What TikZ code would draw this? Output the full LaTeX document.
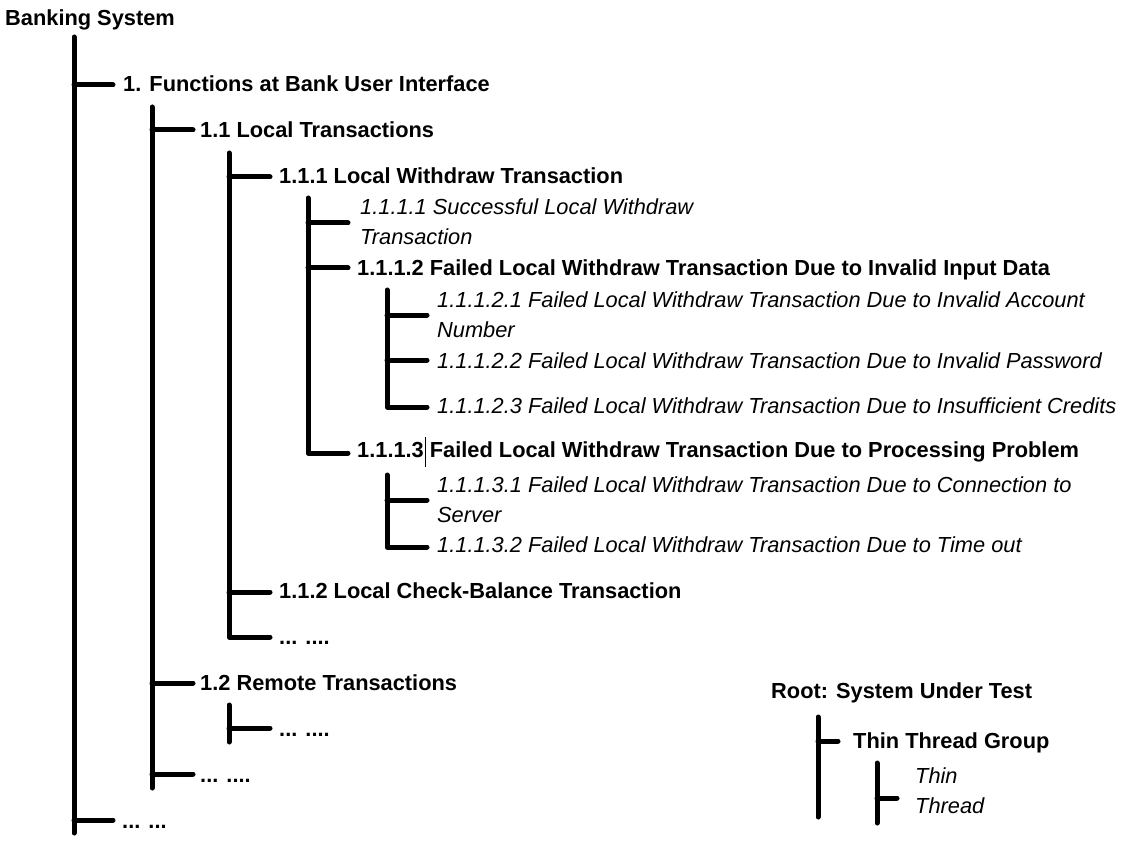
\documentclass[tikz,border=0pt]{standalone}
\usepackage{fontspec}
\setmainfont{Liberation Sans}
\begin{document}
\begin{tikzpicture}[x=1pt,y=-1pt,
  br/.style={line width=5pt,line cap=round,line join=round},
  bt/.style={anchor=base west,inner sep=0pt,font=\bfseries\fontsize{21.8}{30}\selectfont},
  itx/.style={anchor=base west,inner sep=0pt,align=left,font=\itshape\fontsize{21.8}{30}\selectfont}]
\useasboundingbox[fill=white] (0,0) rectangle (1124,842);
% texts (base west = baseline of the last line)
\node[bt] (t0) at (5,26) {Banking System};
\node[bt] (t1) at (123,92) {1. Functions at Bank User Interface};
\node[bt] (t11) at (200,138) {1.1 Local Transactions};
\node[bt] (t111) at (279,184) {1.1.1 Local Withdraw Transaction};
\node[itx] (t1111) at (360,245) {1.1.1.1 Successful Local Withdraw\\Transaction};
\node[bt] (t1112) at (357,276) {1.1.1.2 Failed Local Withdraw Transaction Due to Invalid Input Data};
\node[itx] (t11121) at (437,337) {1.1.1.2.1 Failed Local Withdraw Transaction Due to Invalid Account\\Number};
\node[itx] (t11122) at (437,368) {1.1.1.2.2 Failed Local Withdraw Transaction Due to Invalid Password};
\node[itx] (t11123) at (437,413) {1.1.1.2.3 Failed Local Withdraw Transaction Due to Insufficient Credits};
\node[bt] (t1113) at (357,457) {1.1.1.3 Failed Local Withdraw Transaction Due to Processing Problem};
\node[itx] (t11131) at (437,522) {1.1.1.3.1 Failed Local Withdraw Transaction Due to Connection to\\Server};
\node[itx] (t11132) at (437,552) {1.1.1.3.2 Failed Local Withdraw Transaction Due to Time out};
\node[bt] (t112) at (279,598) {1.1.2 Local Check-Balance Transaction};
\node[bt] (t11x) at (279,644) {... ....};
\node[bt] (t12) at (200,690) {1.2 Remote Transactions};
\node[bt] (t12x) at (279,736) {... ....};
\node[bt] (t1x) at (200,782) {... ....};
\node[bt] (tx) at (122,828) {... ...};
\node[bt] (r0) at (771,698) {Root: System Under Test};
\node[bt] (r1) at (853,748) {Thin Thread Group};
\node[itx] (r2) at (915,813) {Thin\\Thread};
% cursor
\coordinate (c1) at (425,437);
\coordinate (c2) at (425,467);
\draw[line width=1pt] (c1) -- (c2);
% spines
\coordinate (s0t) at (74,37);   \coordinate (s0b) at (74,833);
\coordinate (s1t) at (152,107); \coordinate (s1b) at (152,788);
\coordinate (s2t) at (229,153);
\coordinate (s3t) at (308,198);
\coordinate (s4t) at (387,290);
\coordinate (s5t) at (387,475);
\coordinate (s6t) at (229,705); \coordinate (s6b) at (229,742);
\coordinate (l1t) at (818,717); \coordinate (l1b) at (818,817);
\coordinate (l2t) at (877,763); \coordinate (l2b) at (877,823);
% branch ends
\coordinate (b1) at (113,85);
\coordinate (bx) at (113,820);
\coordinate (b11) at (193,130);
\coordinate (b12) at (193,683);
\coordinate (b1x) at (193,774);
\coordinate (b111) at (270,177);
\coordinate (b112) at (270,592);
\coordinate (b11x) at (270,637);
\coordinate (b1111) at (348,223);
\coordinate (b1112) at (348,268);
\coordinate (b1113) at (348,453);
\coordinate (b11121) at (427,315);
\coordinate (b11122) at (427,360);
\coordinate (b11123) at (427,407);
\coordinate (b11131) at (427,500);
\coordinate (b11132) at (427,547);
\coordinate (b12x) at (270,728);
\coordinate (br1) at (838,741);
\coordinate (br2) at (897,798);
% level 0
\draw[br] (s0t) -- (s0b);
\draw[br] (s0t |- b1) -- (b1);
\draw[br] (s0t |- bx) -- (bx);
% level 1
\draw[br] (s1t) -- (s1b);
\draw[br] (s1t |- b11) -- (b11);
\draw[br] (s1t |- b12) -- (b12);
\draw[br] (s1t |- b1x) -- (b1x);
% level 2
\draw[br] (s2t) |- (b11x);
\draw[br] (s2t |- b111) -- (b111);
\draw[br] (s2t |- b112) -- (b112);
% level 3
\draw[br] (s3t) |- (b1113);
\draw[br] (s3t |- b1111) -- (b1111);
\draw[br] (s3t |- b1112) -- (b1112);
% level 4
\draw[br] (s4t) |- (b11123);
\draw[br] (s4t |- b11121) -- (b11121);
\draw[br] (s4t |- b11122) -- (b11122);
\draw[br] (s5t) |- (b11132);
\draw[br] (s5t |- b11131) -- (b11131);
% remote
\draw[br] (s6t) -- (s6b);
\draw[br] (s6t |- b12x) -- (b12x);
% legend
\draw[br] (l1t) -- (l1b);
\draw[br] (l1t |- br1) -- (br1);
\draw[br] (l2t) -- (l2b);
\draw[br] (l2t |- br2) -- (br2);
\end{tikzpicture}
\end{document}
